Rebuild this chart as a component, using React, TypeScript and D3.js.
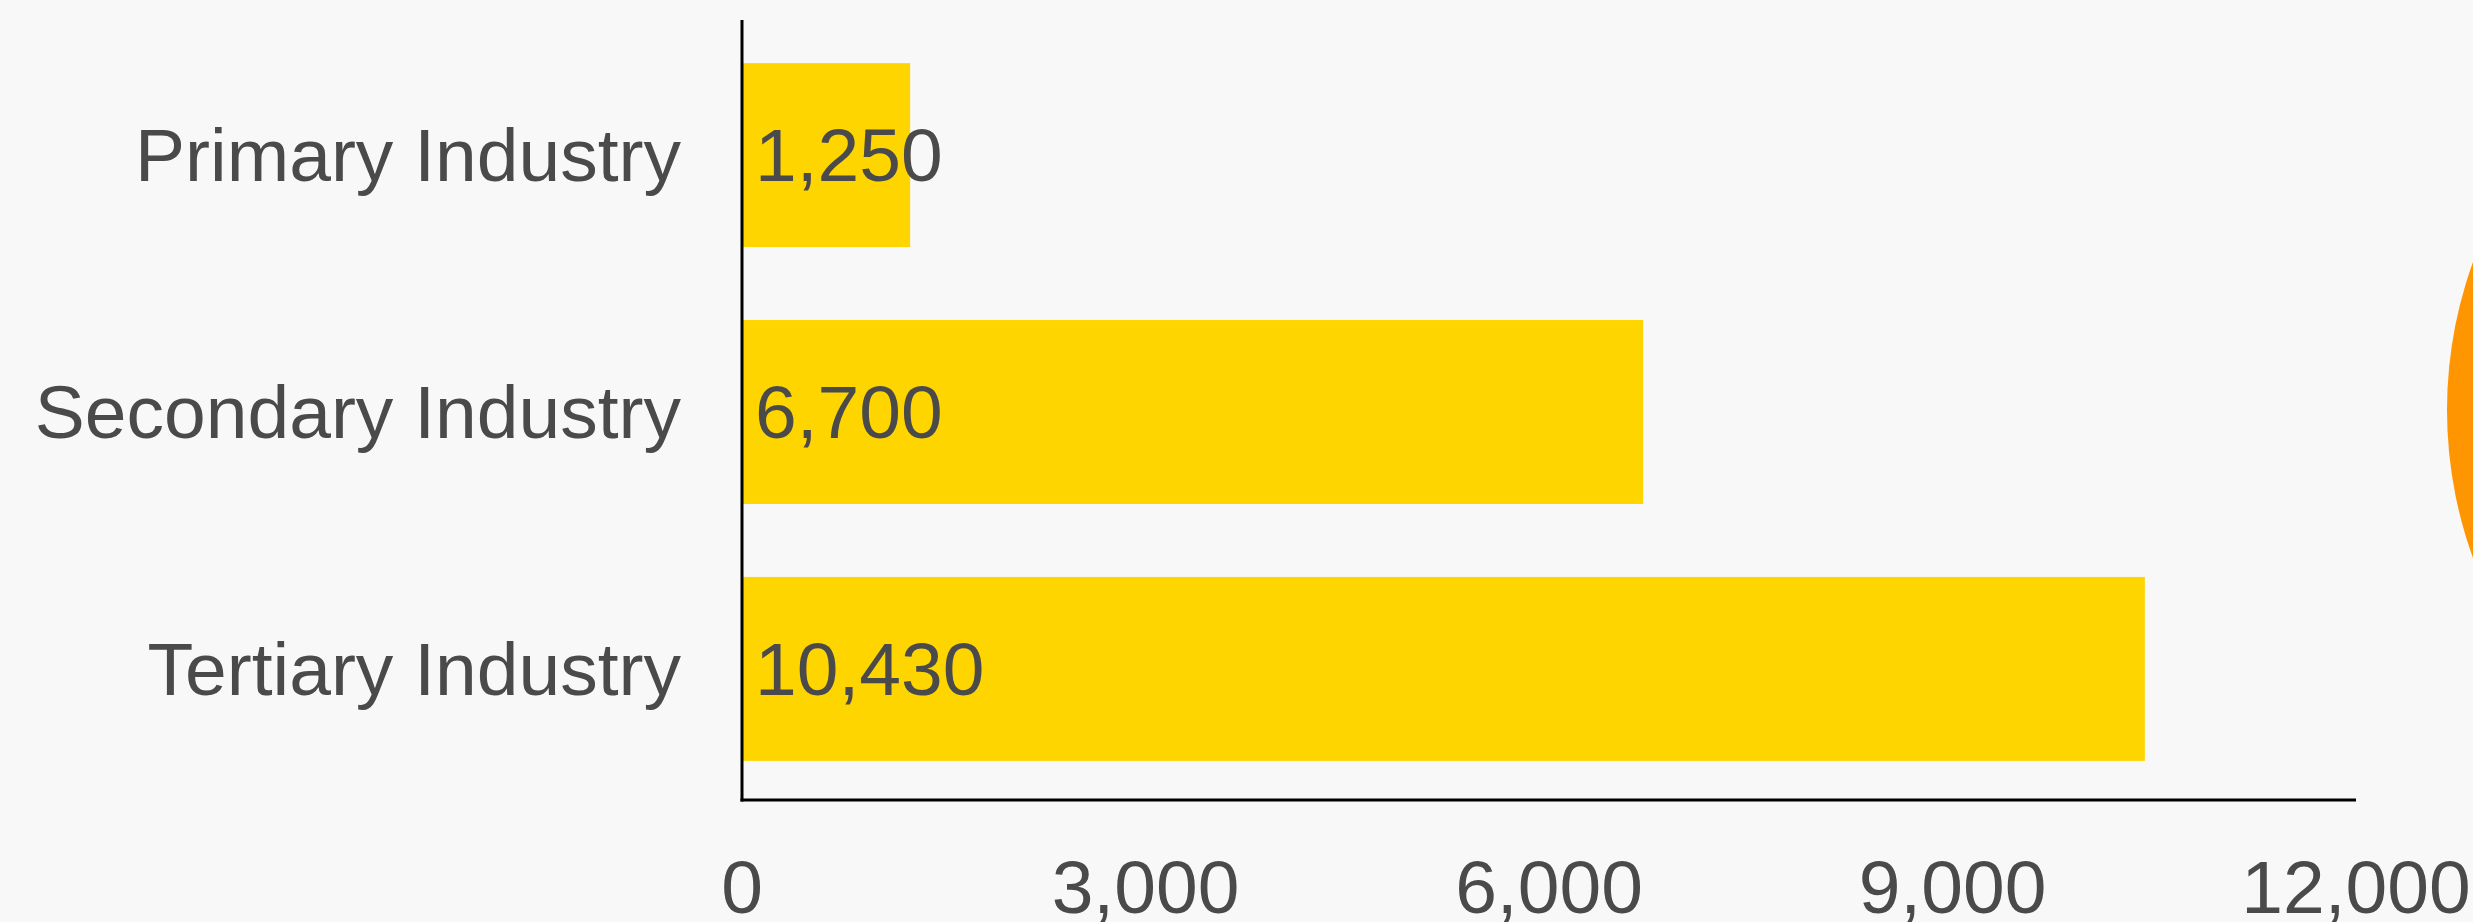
import React from "react";
import * as d3 from "d3";

const categories: string[] = ["Primary Industry", "Secondary Industry", "Tertiary Industry"];
const values: number[] = [1250, 6700, 10430];
const tickValues: number[] = [0, 3000, 6000, 9000, 12000];

const W = 2473;
const H = 922;
const FONT = "'Liberation Sans', Arial, Helvetica, sans-serif";
const TEXT = "#4a4a4a";

export default function App() {
  const x0 = 742;
  const x1 = 2356;
  const yTop = 20;
  const yBottom = 800;

  const x = d3.scaleLinear().domain([0, 12000]).range([x0, x1]);
  const y = d3
    .scaleBand<string>()
    .domain(categories)
    .range([22, 802])
    .paddingInner(0.284)
    .paddingOuter(0.16);
  const fmt = d3.format(",");

  return (
    <svg
      width={W}
      height={H}
      style={{ position: "absolute", left: 0, top: 0, display: "block" }}
      fontFamily={FONT}
    >
      <rect x={0} y={0} width={W} height={H} fill="#f8f8f8" />
      {/* partial orange circle at right edge */}
      <circle cx={2881} cy={410} r={434} fill="#ff9500" />

      {categories.map((c, i) => {
        const by = y(c)!;
        const bw = y.bandwidth();
        return (
          <g key={c}>
            <rect x={x(0)} y={by} width={x(values[i]) - x(0)} height={bw} fill="#ffd500" />
            <text
              x={681}
              y={by + bw / 2}
              dy="0.35em"
              textAnchor="end"
              fontSize={75}
              fill={TEXT}
            >
              {c}
            </text>
            <text x={x(0) + 13} y={by + bw / 2} dy="0.35em" fontSize={75} fill={TEXT}>
              {fmt(values[i])}
            </text>
          </g>
        );
      })}

      <line x1={x0} x2={x0} y1={yTop} y2={yBottom + 1.5} stroke="#000" strokeWidth={3} />
      <line x1={x0 - 1.5} x2={x1} y1={yBottom} y2={yBottom} stroke="#000" strokeWidth={3} />

      {tickValues.map((t) => (
        <text key={t} x={x(t)} y={913} textAnchor="middle" fontSize={75} fill={TEXT}>
          {fmt(t)}
        </text>
      ))}
    </svg>
  );
}
